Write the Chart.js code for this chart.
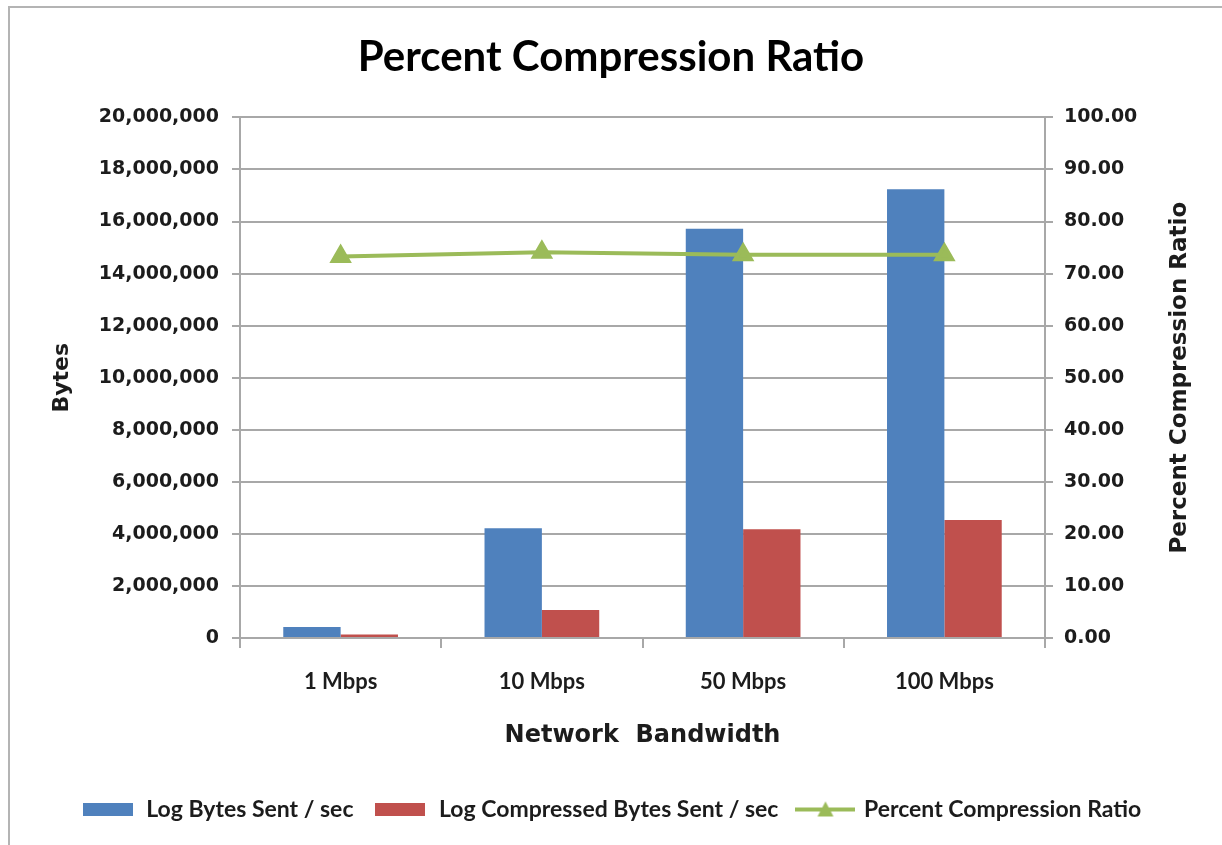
<!DOCTYPE html>
<html>
<head>
<meta charset="utf-8">
<title>Percent Compression Ratio</title>
<script src="https://cdn.jsdelivr.net/npm/chart.js@4/dist/chart.umd.min.js"></script>
<style>
  html, body { margin: 0; padding: 0; background: #fff; overflow: hidden; }
  #wrap { position: relative; width: 1222px; height: 845px; }
  #frame { position: absolute; left: 8px; top: 6px; width: 1400px; height: 1000px;
           border-left: 2px solid #b4b4b4; border-top: 2px solid #b4b4b4; pointer-events: none; }
  canvas { position: absolute; left: 0; top: 0; }
</style>
</head>
<body>
<div id="wrap">
  <canvas id="chart" width="1222" height="845"></canvas>
  <div id="frame"></div>
</div>
<script>
// Network bandwidth categories and measured throughput
const categories = ['1 Mbps', '10 Mbps', '50 Mbps', '100 Mbps'];
const bytesSent = [420000, 4220000, 15720000, 17240000];
const compressedBytesSent = [130000, 1080000, 4180000, 4530000];
const compressionRatio = [73.3, 74.1, 73.6, 73.6];

const seriesNames = ['Log Bytes Sent / sec', 'Log Compressed Bytes Sent / sec', 'Percent Compression Ratio'];
const chartTitle = 'Percent Compression Ratio';
const xAxisTitle = 'Network  Bandwidth';
const leftAxisTitle = 'Bytes';
const rightAxisTitle = 'Percent Compression Ratio';

const BLUE = '#4F81BD';
const RED = '#C0504D';
const GREEN = '#9BBB59';
const GRID = '#a8a8a8';
const TEXT = '#1c1c1c';

// Legend swatches
function rectIcon(color) {
  const c = document.createElement('canvas');
  c.width = 50; c.height = 13;
  const g = c.getContext('2d');
  g.fillStyle = color;
  g.fillRect(0, 0, 50, 13);
  return c;
}
function lineIcon(color) {
  const c = document.createElement('canvas');
  c.width = 60; c.height = 18;
  const g = c.getContext('2d');
  g.strokeStyle = color; g.lineWidth = 4;
  g.beginPath(); g.moveTo(0, 9); g.lineTo(60, 9); g.stroke();
  g.fillStyle = color;
  g.beginPath(); g.moveTo(30, 1); g.lineTo(38, 16); g.lineTo(22, 16); g.closePath(); g.fill();
  return c;
}
const legendIcons = [rectIcon(BLUE), rectIcon(RED), lineIcon(GREEN)];

// Right-hand axis title reads bottom-to-top
const rightTitlePlugin = {
  id: 'rightTitle',
  afterDraw(chart) {
    const { ctx, chartArea } = chart;
    const s = chart.scales.y1;
    ctx.save();
    ctx.translate(s.right - 42, (chartArea.top + chartArea.bottom) / 2);
    ctx.rotate(-Math.PI / 2);
    ctx.font = 'bold 23px "DejaVu Sans"';
    ctx.fillStyle = TEXT;
    ctx.textAlign = 'center';
    ctx.textBaseline = 'middle';
    ctx.fillText(rightAxisTitle, 0, 0);
    ctx.restore();
  }
};

const tickFont = { family: 'DejaVu Sans', weight: 'bold', size: 19 };

new Chart(document.getElementById('chart'), {
  data: {
    labels: categories,
    datasets: [
      {
        type: 'line', label: seriesNames[2], data: compressionRatio, yAxisID: 'y1', order: 0,
        borderColor: GREEN, backgroundColor: GREEN, borderWidth: 4, tension: 0,
        pointStyle: 'triangle', pointRadius: 9, pointBackgroundColor: GREEN, pointBorderColor: GREEN
      },
      {
        type: 'bar', label: seriesNames[0], data: bytesSent, yAxisID: 'y', order: 1,
        backgroundColor: BLUE, categoryPercentage: 0.57, barPercentage: 1.0
      },
      {
        type: 'bar', label: seriesNames[1], data: compressedBytesSent, yAxisID: 'y', order: 1,
        backgroundColor: RED, categoryPercentage: 0.57, barPercentage: 1.0
      }
    ]
  },
  options: {
    responsive: false,
    maintainAspectRatio: false,
    animation: false,
    layout: { padding: { left: 0, right: 0, top: 0, bottom: 14 } },
    plugins: {
      title: {
        display: true, text: chartTitle, color: '#000',
        font: { family: 'Lato', weight: 'bold', size: 42 },
        padding: { top: 32, bottom: 35 }
      },
      legend: {
        position: 'bottom',
        labels: {
          usePointStyle: true, pointStyleWidth: 54, padding: 20, color: TEXT,
          font: { family: 'Lato', weight: 'bold', size: 23 },
          generateLabels: () => [1, 2, 0].map((di, i) => ({
            text: seriesNames[i], pointStyle: legendIcons[i], datasetIndex: di,
            hidden: false, fontColor: TEXT, lineWidth: 0, strokeStyle: 'transparent'
          }))
        }
      },
      tooltip: { enabled: false }
    },
    scales: {
      x: {
        position: 'bottom',
        grid: { offset: true, drawOnChartArea: false, drawTicks: true, tickLength: 10, color: GRID, lineWidth: 2 },
        border: { display: true, color: GRID, width: 2 },
        ticks: { color: TEXT, padding: 21, font: { family: 'Lato', weight: 'bold', size: 22 } },
        title: {
          display: true, text: xAxisTitle, color: TEXT,
          font: { family: 'DejaVu Sans', weight: 'bold', size: 24 },
          padding: { top: 0, bottom: 28 }
        },
        afterFit(scale) { scale.height = 140; }
      },
      y: {
        position: 'left', min: 0, max: 20000000,
        grid: { color: GRID, lineWidth: 2, tickLength: 8 },
        border: { display: true, color: GRID, width: 2 },
        ticks: {
          stepSize: 2000000, color: TEXT, padding: 13, font: tickFont,
          callback: v => v.toLocaleString('en-US')
        },
        title: {
          display: true, text: leftAxisTitle, color: TEXT,
          font: { family: 'DejaVu Sans', weight: 'bold', size: 22 },
          padding: { top: 49, bottom: 0 }
        },
        afterFit(scale) { scale.width = 240; }
      },
      y1: {
        position: 'right', min: 0, max: 100,
        grid: { drawOnChartArea: false, color: GRID, lineWidth: 2, tickLength: 8 },
        border: { display: true, color: GRID, width: 2 },
        ticks: {
          stepSize: 10, color: TEXT, padding: 11, font: tickFont,
          callback: v => v.toFixed(2)
        },
        afterFit(scale) { scale.width = 177; }
      }
    }
  },
  plugins: [rightTitlePlugin]
});
</script>
</body>
</html>
